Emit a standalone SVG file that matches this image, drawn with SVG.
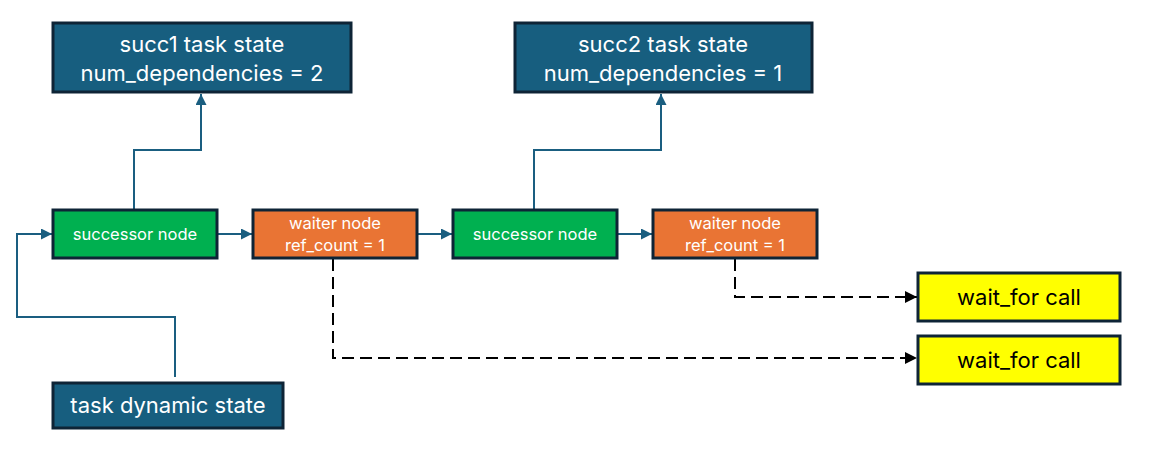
<svg xmlns="http://www.w3.org/2000/svg" width="1150" height="449" viewBox="0 0 1150 449">
<defs>
<style>
.box{stroke:#0e2436;stroke-width:3}
.blue{fill:#175e7f}
.green{fill:#00b050}
.orange{fill:#e97434}
.yellow{fill:#ffff00}
.t{font-family:Inter,"Open Sans","Liberation Sans",sans-serif;text-anchor:middle}
.w{fill:#ffffff}
.big{font-size:22px}
.small{font-size:16.5px}
.c{fill:none;stroke:#1a5e80;stroke-width:2}
.d{fill:none;stroke:#000;stroke-width:2;stroke-dasharray:12 6}
</style>
<marker id="ab" viewBox="0 0 10 10" refX="10" refY="5" markerWidth="11" markerHeight="11" markerUnits="userSpaceOnUse" orient="auto"><path d="M0,0 L10,5 L0,10 z" fill="#1a5e80"/></marker>
<marker id="ak" viewBox="0 0 10 10" refX="10" refY="5" markerWidth="12" markerHeight="12" markerUnits="userSpaceOnUse" orient="auto"><path d="M0,0 L10,5 L0,10 z" fill="#000"/></marker>
</defs>
<g id="connectors">
<path class="c" d="M134,209 V150 H201 V94" marker-end="url(#ab)"/>
<path class="c" d="M534,209 V150 H661 V94" marker-end="url(#ab)"/>
<path class="c" d="M217,234 H252" marker-end="url(#ab)"/>
<path class="c" d="M417,234 H452" marker-end="url(#ab)"/>
<path class="c" d="M617,234 H652" marker-end="url(#ab)"/>
<path class="c" d="M175,377 V317 H17 V234 H52" marker-end="url(#ab)"/>
<path class="d" d="M735,259 V297 H917" marker-end="url(#ak)"/>
<path class="d" d="M333,259 V358 H917" marker-end="url(#ak)"/>
</g>
<g id="succ1-state">
<rect class="box blue" x="53" y="23" width="298" height="69"/>
<text class="t w big" x="202" y="52">succ1 task state</text>
<text class="t w big" x="202" y="81">num_dependencies = 2</text>
</g>
<g id="succ2-state">
<rect class="box blue" x="515" y="23" width="297" height="69"/>
<text class="t w big" x="663" y="52">succ2 task state</text>
<text class="t w big" x="663" y="81">num_dependencies = 1</text>
</g>
<g id="successor1">
<rect class="box green" x="53" y="210" width="164" height="48"/>
<text class="t w small" x="135" y="240">successor node</text>
</g>
<g id="waiter1">
<rect class="box orange" x="253" y="210" width="164" height="48"/>
<text class="t w small" x="335" y="229">waiter node</text>
<text class="t w small" x="335" y="251">ref_count = 1</text>
</g>
<g id="successor2">
<rect class="box green" x="453" y="210" width="164" height="48"/>
<text class="t w small" x="535" y="240">successor node</text>
</g>
<g id="waiter2">
<rect class="box orange" x="653" y="210" width="164" height="48"/>
<text class="t w small" x="735" y="229">waiter node</text>
<text class="t w small" x="735" y="251">ref_count = 1</text>
</g>
<g id="wait1">
<rect class="box yellow" x="918" y="273" width="202" height="48"/>
<text class="t big" x="1019" y="305" fill="#000">wait_for call</text>
</g>
<g id="wait2">
<rect class="box yellow" x="918" y="336" width="202" height="48"/>
<text class="t big" x="1019" y="368" fill="#000">wait_for call</text>
</g>
<g id="dynamic-state">
<rect class="box blue" x="53" y="383" width="230" height="45"/>
<text class="t w big" x="168" y="413">task dynamic state</text>
</g>
</svg>
